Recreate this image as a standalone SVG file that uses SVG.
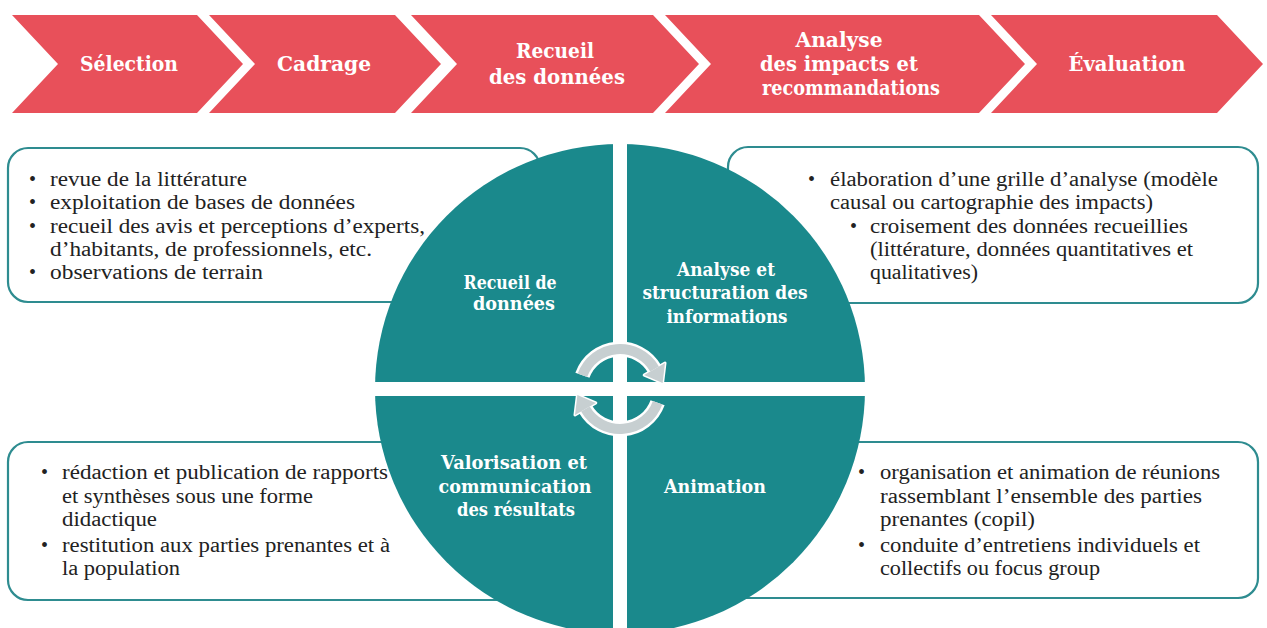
<svg xmlns="http://www.w3.org/2000/svg" width="1267" height="628" viewBox="0 0 1267 628">
<style>
.chev{fill:#E8505A;}
.ct{font-family:"DejaVu Serif","Liberation Serif",serif;font-weight:bold;font-size:19.5px;fill:#ffffff;text-anchor:middle;}
.box{fill:#ffffff;stroke:#2E8C90;stroke-width:2.2;}
.bt{font-family:"Liberation Serif","Times New Roman",serif;font-size:20.5px;fill:#222222;}
.bul{font-family:"Liberation Serif",serif;font-size:20px;fill:#222222;}
.ql{font-family:"DejaVu Serif","Liberation Serif",serif;font-weight:bold;font-size:18px;fill:#ffffff;text-anchor:middle;}
.arcw{fill:none;stroke:#ffffff;stroke-width:15;}
.arcg{fill:none;stroke:#C7CFD1;stroke-width:10;}
.headw{fill:#C7CFD1;stroke:#ffffff;stroke-width:3;stroke-linejoin:round;}
.headg{fill:#C7CFD1;}
</style>
<rect x="0" y="0" width="1267" height="628" fill="#ffffff"/>

<g id="chevrons">
 <g id="step-selection">
  <polygon class="chev" points="12,15 197,15 243,64 197,113 12,113 58,64"/>
  <text class="ct" x="129" y="71" textLength="98" lengthAdjust="spacingAndGlyphs">Sélection</text>
 </g>
 <g id="step-cadrage">
  <polygon class="chev" points="209,15 395,15 441,64 395,113 209,113 255,64"/>
  <text class="ct" x="324" y="71" textLength="94" lengthAdjust="spacingAndGlyphs">Cadrage</text>
 </g>
 <g id="step-recueil">
  <polygon class="chev" points="411,15 653,15 699,64 653,113 411,113 457,64"/>
  <text class="ct" x="555" y="58" textLength="78" lengthAdjust="spacingAndGlyphs">Recueil</text>
  <text class="ct" x="557" y="84" textLength="136" lengthAdjust="spacingAndGlyphs">des données</text>
 </g>
 <g id="step-analyse">
  <polygon class="chev" points="665,15 979,15 1025,64 979,113 665,113 711,64"/>
  <text class="ct" x="839" y="47" textLength="87" lengthAdjust="spacingAndGlyphs">Analyse</text>
  <text class="ct" x="839" y="71" textLength="158" lengthAdjust="spacingAndGlyphs">des impacts et</text>
  <text class="ct" x="851" y="95" textLength="178" lengthAdjust="spacingAndGlyphs">recommandations</text>
 </g>
 <g id="step-evaluation">
  <polygon class="chev" points="991,15 1217,15 1263,64 1217,113 991,113 1037,64"/>
  <text class="ct" x="1127" y="71" textLength="117" lengthAdjust="spacingAndGlyphs">Évaluation</text>
 </g>
</g>

<g id="box-top-left">
 <rect class="box" x="8" y="148" width="532" height="154" rx="20"/>
 <text class="bul" x="29" y="186">•</text>
 <text class="bt" x="50" y="186" textLength="197" lengthAdjust="spacingAndGlyphs">revue de la littérature</text>
 <text class="bul" x="29" y="209">•</text>
 <text class="bt" x="50" y="209" textLength="305" lengthAdjust="spacingAndGlyphs">exploitation de bases de données</text>
 <text class="bul" x="29" y="233">•</text>
 <text class="bt" x="50" y="233" textLength="375" lengthAdjust="spacingAndGlyphs">recueil des avis et perceptions d’experts,</text>
 <text class="bt" x="50" y="256" textLength="322" lengthAdjust="spacingAndGlyphs">d’habitants, de professionnels, etc.</text>
 <text class="bul" x="29" y="279">•</text>
 <text class="bt" x="50" y="279" textLength="213" lengthAdjust="spacingAndGlyphs">observations de terrain</text>
</g>

<g id="box-top-right">
 <rect class="box" x="728" y="147" width="530" height="156" rx="20"/>
 <text class="bul" x="808" y="186">•</text>
 <text class="bt" x="830" y="186" textLength="388" lengthAdjust="spacingAndGlyphs">élaboration d’une grille d’analyse (modèle</text>
 <text class="bt" x="830" y="209" textLength="323" lengthAdjust="spacingAndGlyphs">causal ou cartographie des impacts)</text>
 <text class="bul" x="850" y="233">•</text>
 <text class="bt" x="870" y="233" textLength="318" lengthAdjust="spacingAndGlyphs">croisement des données recueillies</text>
 <text class="bt" x="870" y="256" textLength="323" lengthAdjust="spacingAndGlyphs">(littérature, données quantitatives et</text>
 <text class="bt" x="870" y="279" textLength="108" lengthAdjust="spacingAndGlyphs">qualitatives)</text>
</g>

<g id="box-bottom-left">
 <rect class="box" x="8" y="442" width="532" height="158" rx="20"/>
 <text class="bul" x="41" y="479">•</text>
 <text class="bt" x="62" y="479" textLength="326" lengthAdjust="spacingAndGlyphs">rédaction et publication de rapports</text>
 <text class="bt" x="62" y="503" textLength="251" lengthAdjust="spacingAndGlyphs">et synthèses sous une forme</text>
 <text class="bt" x="62" y="526" textLength="95" lengthAdjust="spacingAndGlyphs">didactique</text>
 <text class="bul" x="41" y="552">•</text>
 <text class="bt" x="62" y="552" textLength="328" lengthAdjust="spacingAndGlyphs">restitution aux parties prenantes et à</text>
 <text class="bt" x="62" y="575" textLength="118" lengthAdjust="spacingAndGlyphs">la population</text>
</g>

<g id="box-bottom-right">
 <rect class="box" x="700" y="442" width="558" height="156" rx="20"/>
 <text class="bul" x="858" y="479">•</text>
 <text class="bt" x="880" y="479" textLength="340" lengthAdjust="spacingAndGlyphs">organisation et animation de réunions</text>
 <text class="bt" x="880" y="503" textLength="322" lengthAdjust="spacingAndGlyphs">rassemblant l’ensemble des parties</text>
 <text class="bt" x="880" y="526" textLength="155" lengthAdjust="spacingAndGlyphs">prenantes (copil)</text>
 <text class="bul" x="858" y="552">•</text>
 <text class="bt" x="880" y="552" textLength="320" lengthAdjust="spacingAndGlyphs">conduite d’entretiens individuels et</text>
 <text class="bt" x="880" y="575" textLength="220" lengthAdjust="spacingAndGlyphs">collectifs ou focus group</text>
</g>

<g id="cycle">
 <circle cx="620" cy="389" r="245" fill="#1A898C"/>
 <rect x="613" y="140" width="14" height="500" fill="#ffffff"/>
 <rect x="370" y="382" width="500" height="14" fill="#ffffff"/>
 <g id="q-recueil">
  <text class="ql" x="510" y="289" textLength="93" lengthAdjust="spacingAndGlyphs">Recueil de</text>
  <text class="ql" x="514" y="310" textLength="82" lengthAdjust="spacingAndGlyphs">données</text>
 </g>
 <g id="q-analyse">
  <text class="ql" x="726" y="276" textLength="98" lengthAdjust="spacingAndGlyphs">Analyse et</text>
  <text class="ql" x="725" y="299" textLength="165" lengthAdjust="spacingAndGlyphs">structuration des</text>
  <text class="ql" x="727" y="323" textLength="121" lengthAdjust="spacingAndGlyphs">informations</text>
 </g>
 <g id="q-valorisation">
  <text class="ql" x="514" y="469" textLength="146" lengthAdjust="spacingAndGlyphs">Valorisation et</text>
  <text class="ql" x="515" y="493" textLength="153" lengthAdjust="spacingAndGlyphs">communication</text>
  <text class="ql" x="516" y="516" textLength="118" lengthAdjust="spacingAndGlyphs">des résultats</text>
 </g>
 <g id="q-animation">
  <text class="ql" x="715" y="493" textLength="102" lengthAdjust="spacingAndGlyphs">Animation</text>
 </g>
</g>

<g id="connectors">
 <path class="arcw" d="M 582.4 375.3 A 40 40 0 0 1 654.6 369"/>
 <polygon class="headw" points="644.2,375 665,363 662.6,382.9"/>
 <path class="arcg" d="M 582.4 375.3 A 40 40 0 0 1 654.6 369"/>
 <polygon class="headg" points="644.2,375 665,363 662.6,382.9"/>

 <path class="arcw" d="M 657.6 402.7 A 40 40 0 0 1 585.4 409"/>
 <polygon class="headw" points="595.8,403 575,415 577.4,395.1"/>
 <path class="arcg" d="M 657.6 402.7 A 40 40 0 0 1 585.4 409"/>
 <polygon class="headg" points="595.8,403 575,415 577.4,395.1"/>
</g>
</svg>
